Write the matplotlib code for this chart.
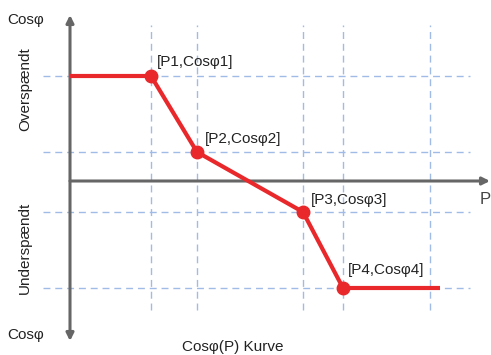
import matplotlib.pyplot as plt

plt.rcParams['font.family'] = ['Liberation Sans', 'DejaVu Sans']

# Curve points (P, Cos phi), arbitrary units
p_vals = [0.0, 8.1, 12.7, 23.3, 27.3, 37.0]
cos_vals = [1.05, 1.05, 0.29, -0.31, -1.07, -1.07]
point_labels = ['[P1,Cosφ1]', '[P2,Cosφ2]', '[P3,Cosφ3]', '[P4,Cosφ4]']

# Dashed guide lines
grid_x = [8.1, 12.7, 23.3, 27.3, 36.0]
grid_y = [1.05, 0.29, -0.31, -1.07]

red = '#e8282b'
axis_gray = '#666666'
grid_blue = '#9fbbe6'

fig = plt.figure(figsize=(4.91, 3.55), dpi=100)
ax = fig.add_axes([0, 0, 1, 1])
ax.set_xlim(-7.0, 42.1)
ax.set_ylim(-1.74, 1.81)
ax.axis('off')

# grid
for gx in grid_x:
    ax.plot([gx, gx], [-1.29, 1.56], color=grid_blue, lw=1, ls=(0, (5, 3.5)), zorder=1)
for gy in grid_y:
    ax.plot([-2.7, 40.0], [gy, gy], color=grid_blue, lw=1, ls=(0, (5, 3.5)), zorder=1)

# axes arrows
ax.annotate('', xy=(0, 1.66), xytext=(0, -1.60),
            arrowprops=dict(arrowstyle='<|-|>', color=axis_gray, lw=2.2,
                            mutation_scale=11, shrinkA=0, shrinkB=0), zorder=2)
ax.annotate('', xy=(42.0, 0), xytext=(0, 0),
            arrowprops=dict(arrowstyle='-|>', color=axis_gray, lw=2.2,
                            mutation_scale=11, shrinkA=0, shrinkB=0), zorder=2)

# curve
ax.plot(p_vals, cos_vals, color=red, lw=3, zorder=3, solid_capstyle='butt')
ax.plot(p_vals[1:5], cos_vals[1:5], 'o', color=red, ms=9, zorder=4)

offsets = [(0.6, 0.14), (0.8, 0.13), (0.8, 0.12), (0.5, 0.18)]
for x, y, lab, (dx, dy) in zip(p_vals[1:5], cos_vals[1:5], point_labels, offsets):
    ax.text(x + dx, y + dy, lab, fontsize=11, va='center', ha='left', color='#222222')

# side texts
ax.text(-4.4, 1.61, 'Cosφ', fontsize=11, ha='center', va='center', color='#222222')
ax.text(-4.4, -1.54, 'Cosφ', fontsize=11, ha='center', va='center', color='#222222')
ax.text(-4.5, 0.92, 'Overspændt', fontsize=11, rotation=90, ha='center', va='center', color='#222222')
ax.text(-4.5, -0.67, 'Underspændt', fontsize=11, rotation=90, ha='center', va='center', color='#222222')
ax.text(41.5, -0.19, 'P', fontsize=12, ha='center', va='center', color='#444444')
ax.text(16.3, -1.66, 'Cosφ(P) Kurve', fontsize=11, ha='center', va='center', color='#222222')

plt.savefig('out.png', dpi=100)
plt.close()
